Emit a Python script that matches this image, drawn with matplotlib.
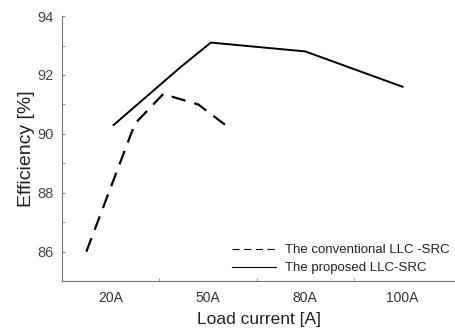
import numpy as np
import matplotlib
matplotlib.use("Agg")
from matplotlib import pyplot as plt

# x positions are category slots: 0 -> 20A, 1 -> 50A, 2 -> 80A, 3 -> 100A
conv_x = [-0.25, 0.25, 0.54, 0.9, 1.22]
conv_y = [86.0, 90.35, 91.35, 91.0, 90.2]
prop_x = [0.03, 0.72, 1.03, 2.0, 3.0]
prop_y = [90.3, 92.27, 93.1, 92.8, 91.6]
xlabels = ["20A", "50A", "80A", "100A"]

plt.rcParams['font.family'] = ['Liberation Sans', 'DejaVu Sans']
fig = plt.figure(figsize=(4.56, 3.28), dpi=100)
ax = fig.add_axes([0.136, 0.143, 0.864, 0.808])

ax.plot(conv_x, conv_y, color='black', lw=1.6, ls=(0, (6.5, 4)), label='The conventional LLC -SRC')
ax.plot(prop_x, prop_y, color='black', lw=1.4, label='The proposed LLC-SRC')

ax.set_xlim(-0.5, 3.55)
ax.set_ylim(85, 94)
ax.set_yticks([86, 88, 90, 92, 94])
ax.set_yticks(np.arange(85, 95, 1), minor=True)
ax.set_xticks(range(len(xlabels)))
ax.set_xticklabels(xlabels)
ax.set_xticks([0.5, 1.5, 2.5], minor=True)
ax.tick_params(axis='x', which='major', length=0, labelsize=10, colors='#333333', pad=7)
ax.tick_params(axis='x', which='minor', length=2, direction='in', color='#888888')
ax.tick_params(axis='y', which='both', length=2, direction='in', color='#888888', labelsize=10.5, labelcolor='#444444', pad=6)
for s in ['top', 'right']:
    ax.spines[s].set_visible(False)
for s in ['left', 'bottom']:
    ax.spines[s].set_color('#777777')
    ax.spines[s].set_linewidth(0.8)

ax.set_ylabel('Efficiency [%]', fontsize=14, color='#222222', labelpad=2)
ax.set_xlabel('Load current [A]', fontsize=12.5, color='#222222', labelpad=5)

leg = ax.legend(loc='lower right', frameon=False, fontsize=9.5, handlelength=3.3,
                borderaxespad=0.1, labelspacing=0.45, handletextpad=0.7)
for h in leg.get_lines():
    h.set_linewidth(0.8)
for t in leg.get_texts():
    t.set_color('#222222')

fig.savefig('out.png', dpi=100)
